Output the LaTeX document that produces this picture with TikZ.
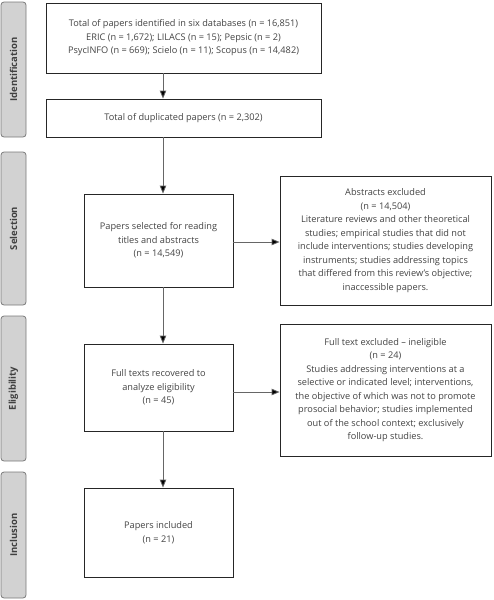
\documentclass[tikz,border=0pt]{standalone}
\usepackage{fontspec}
\setmainfont{Open Sans}
\usetikzlibrary{arrows.meta,calc}
\definecolor{txt}{HTML}{444444}
\definecolor{barfill}{HTML}{D2D2D2}
\definecolor{barline}{HTML}{7A7A7A}
\tikzset{
  box/.style={draw=black!85, line width=0.8pt, fill=white, inner sep=0pt, align=center,
    font=\fontsize{9.2}{13.5}\selectfont, text=txt},
  bar/.style={draw=barline, fill=barfill, line width=0.8pt, rounded corners=3pt},
  barlabel/.style={rotate=90, font=\fontsize{9.5}{10}\selectfont\bfseries, text=black!75},
  flow/.style={draw=black!60, line width=0.8pt, -{Triangle[length=8pt,width=6.5pt,fill=black]}},
}
\begin{document}
\begin{tikzpicture}[x=1pt,y=-1pt]
\useasboundingbox (0,0) rectangle (493,600);
% phase bars
\draw[bar] (1,2) rectangle (26,137);
\node[barlabel] (lid) at (13.5,69.5) {Identification};
\draw[bar] (1,152) rectangle (26,305);
\node[barlabel] (lsel) at (13.5,228.5) {Selection};
\draw[bar] (1,316) rectangle (26,461);
\node[barlabel] (lel) at (13.5,388.5) {Eligibility};
\draw[bar] (1,472) rectangle (26,598);
\node[barlabel] (lin) at (13.5,535) {Inclusion};
% boxes
\node[box, minimum width=275pt, minimum height=70pt] (b1) at (183.5,38)
  {Total of papers identified in six databases (n = 16,851)\\
   ERIC (n = 1,672); LILACS (n = 15); Pepsic (n = 2)\\
   PsycINFO (n = 669); Scielo (n = 11); Scopus (n = 14,482)};
\node[box, minimum width=275pt, minimum height=38pt] (b2) at (183.5,118)
  {Total of duplicated papers (n = 2,302)};
\node[box, minimum width=149pt, minimum height=93pt] (b3) at (158.5,240.5)
  {Papers selected for reading\\ titles and abstracts\\ (n = 14,549)};
\node[box, minimum width=211pt, minimum height=129pt] (e1) at (385.5,240.5)
  {Abstracts excluded\\ (n = 14,504)\\
   Literature reviews and other theoretical\\
   studies; empirical studies that did not\\
   include interventions; studies developing\\
   instruments; studies addressing topics\\
   that differed from this review’s objective;\\
   inaccessible papers.};
\node[box, minimum width=149pt, minimum height=87pt] (b4) at (158.5,387.5)
  {Full texts recovered to\\ analyze eligibility\\ (n = 45)};
\node[box, minimum width=211pt, minimum height=132pt] (e2) at (385.5,390)
  {Full text excluded – ineligible\\ (n = 24)\\
   Studies addressing interventions at a\\
   selective or indicated level; interventions,\\
   the objective of which was not to promote\\
   prosocial behavior; studies implemented\\
   out of the school context; exclusively\\
   follow-up studies.};
\node[box, minimum width=149pt, minimum height=89pt] (b5) at (158.5,532.5)
  {Papers included\\ (n = 21)};
% connectors
\coordinate (ax) at (163,0);
\coordinate (y1) at (0,242);
\coordinate (y2) at (0,392);
\draw[flow] (b1.south -| ax) -- (b2.north -| ax);
\draw[flow] (b2.south -| ax) -- (b3.north -| ax);
\draw[flow] (b3.south -| ax) -- (b4.north -| ax);
\draw[flow] (b4.south -| ax) -- (b5.north -| ax);
\draw[flow] (b3.east |- y1) -- (e1.west |- y1);
\draw[flow] (b4.east |- y2) -- (e2.west |- y2);
\end{tikzpicture}
\end{document}
